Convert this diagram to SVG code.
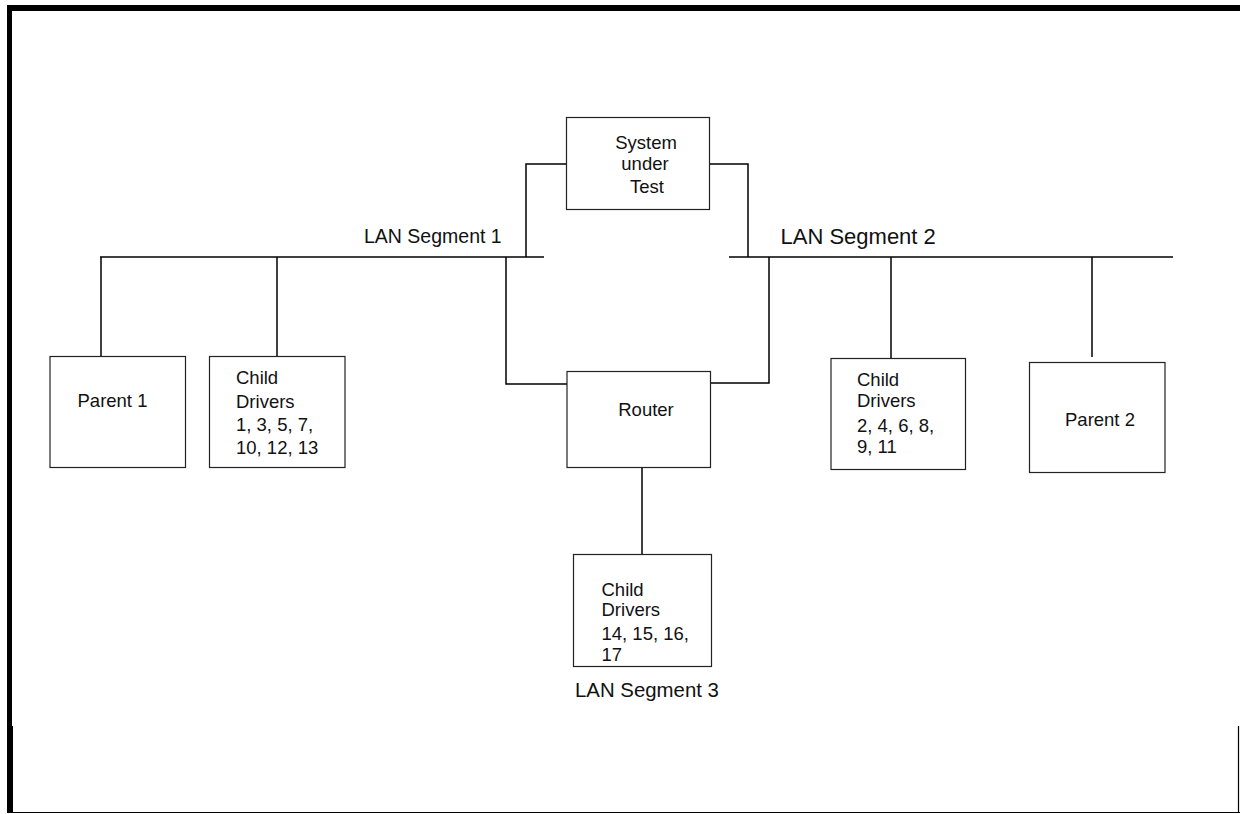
<svg xmlns="http://www.w3.org/2000/svg" width="1240" height="814" viewBox="0 0 1240 814">
<style>
.box{fill:#fff;stroke:#222;stroke-width:1.2}
.ln{fill:none;stroke:#000;stroke-width:1.5}
text{font-family:"Liberation Sans",Arial,sans-serif;font-size:18.5px;fill:#111}
.c{text-anchor:middle}
</style>
<rect x="0" y="0" width="1240" height="814" fill="#fff"/>
<g id="frame">
<rect x="7" y="5" width="1233" height="6" fill="#000"/>
<rect x="7" y="5" width="5" height="722" fill="#000"/>
<rect x="7" y="726" width="6" height="87" fill="#000"/>
<line x1="7" y1="812.5" x2="1240" y2="812.5" stroke="#000" stroke-width="1.2"/>
<line x1="1238.5" y1="726" x2="1238.5" y2="813" stroke="#000" stroke-width="1.2"/>
</g>
<g id="connectors">
<line class="ln" x1="100" y1="257" x2="544" y2="257"/>
<line class="ln" x1="729" y1="257" x2="1173" y2="257"/>
<polyline class="ln" points="566,164 526,164 526,257"/>
<polyline class="ln" points="709,164 748,164 748,257"/>
<polyline class="ln" points="506,257 506,384 567,384"/>
<polyline class="ln" points="710,383 769,383 769,257"/>
<line class="ln" x1="101" y1="257" x2="101" y2="358"/>
<line class="ln" x1="277" y1="257" x2="277" y2="357"/>
<line class="ln" x1="891" y1="257" x2="891" y2="359"/>
<line class="ln" x1="1092" y1="257" x2="1092" y2="357"/>
<line class="ln" x1="642" y1="467" x2="642" y2="555"/>
</g>
<g id="sut">
<rect class="box" x="566.5" y="117.5" width="143" height="92"/>
<text class="c" x="646" y="149">System</text>
<text class="c" x="645" y="170">under</text>
<text class="c" x="647" y="193">Test</text>
</g>
<g id="router">
<rect class="box" x="567" y="371.5" width="143.5" height="96"/>
<text class="c" x="646" y="416">Router</text>
</g>
<g id="parent1">
<rect class="box" x="50" y="356.5" width="135.5" height="111"/>
<text x="77.5" y="406.5">Parent 1</text>
</g>
<g id="child1">
<rect class="box" x="209.5" y="356.5" width="135.5" height="111"/>
<text x="236" y="384">Child</text>
<text x="236" y="407.5">Drivers</text>
<text x="236" y="430.5">1, 3, 5, 7,</text>
<text x="236" y="453.5">10, 12, 13</text>
</g>
<g id="child2">
<rect class="box" x="831" y="358.5" width="134.5" height="111"/>
<text x="857" y="385.5">Child</text>
<text x="857" y="406.5">Drivers</text>
<text x="857" y="431.5">2, 4, 6, 8,</text>
<text x="857" y="452.5">9, 11</text>
</g>
<g id="parent2">
<rect class="box" x="1029.5" y="362.5" width="135.5" height="110"/>
<text x="1065" y="425.5">Parent 2</text>
</g>
<g id="child3">
<rect class="box" x="573.5" y="554.5" width="138" height="112"/>
<text x="601.5" y="595.5">Child</text>
<text x="601.5" y="616">Drivers</text>
<text x="601.5" y="640">14, 15, 16,</text>
<text x="601.5" y="661">17</text>
</g>
<g id="labels">
<text x="364" y="242.5" style="font-size:19.5px">LAN Segment 1</text>
<text x="780.5" y="244" style="font-size:22px">LAN Segment 2</text>
<text x="575" y="697" style="font-size:20.4px">LAN Segment 3</text>
</g>
</svg>
